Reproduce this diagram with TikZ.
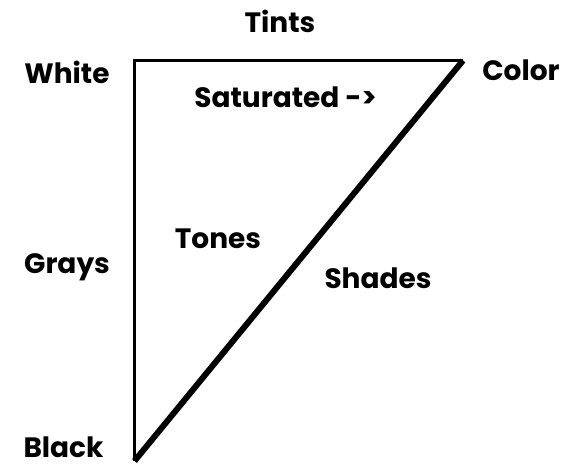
\documentclass[tikz,border=0pt]{standalone}
\usepackage{fontspec}
\setmainfont{Poppins}
\usepackage{tikz}
\usetikzlibrary{positioning}
\tikzset{
  lbl/.style={font=\fontsize{28}{32}\selectfont\bfseries,inner sep=0pt,anchor=base},
  side/.style={line width=3.2pt,draw=black},
  diag/.style={line width=6pt,draw=black}
}
\begin{document}
\begin{tikzpicture}[x=1pt,y=-1pt]
\useasboundingbox (0,0) rectangle (577,468);
% corners of the triangle
\coordinate (white) at (134.5,60.5);
\coordinate (color) at (463,60.5);
\coordinate (black) at (134.5,461);
\draw[side,line join=miter] (color) -- (white) -- (black);
\draw[diag] (color) -- (black);
% labels
\node[lbl] (tints) at (280,33) {Tints};
\node[lbl] (whitelbl) at (67,84) {White};
\node[lbl] (colorlbl) at (521,81) {Color};
\node[lbl] (sat) at (285.5,107) {Saturated ->};
\node[lbl] (tones) at (218,248) {Tones};
\node[lbl] (grays) at (67,273) {Grays};
\node[lbl] (shades) at (378,288) {Shades};
\node[lbl] (blacklbl) at (63.5,457) {Black};
\end{tikzpicture}
\end{document}
